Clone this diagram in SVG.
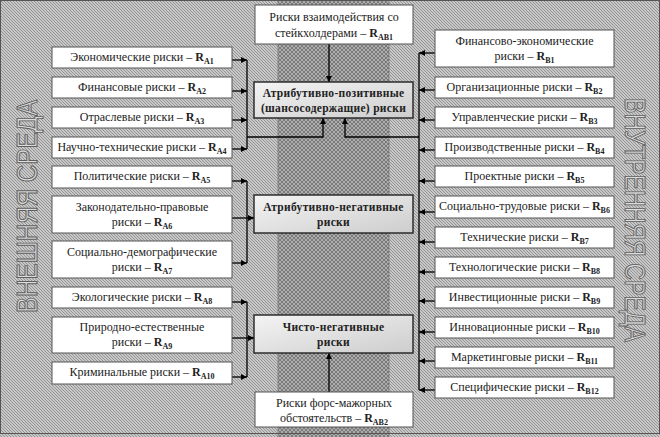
<svg xmlns="http://www.w3.org/2000/svg" width="660" height="437" viewBox="0 0 660 437">
<style>
.box{fill:#fff;stroke:#555;stroke-width:1}
.main{fill:url(#grad);stroke:#222;stroke-width:1.4}
.t{font-family:"Liberation Serif","Times New Roman",serif;font-size:12px;fill:#222;text-anchor:middle}
.tb{font-family:"Liberation Serif","Times New Roman",serif;font-size:11.5px;font-weight:bold;fill:#222;text-anchor:middle;letter-spacing:0.3px}
.b{font-weight:bold}
.s{font-weight:bold;font-size:8px}
.ln{fill:none;stroke:#000;stroke-width:1.3}
.big{font-family:"Liberation Sans",Arial,sans-serif;font-size:30px;fill:#dcdcdc;stroke:#5e5e5e;stroke-width:1}
</style>
<defs>
<pattern id="hatch" width="3" height="3" patternUnits="userSpaceOnUse">
<rect width="3" height="3" fill="#c8c8c8"/>
<path d="M-1,-1 L4,4 M2,-1 L4,1 M-1,2 L1,4" stroke="#8e8e8e" stroke-width="0.9"/>
</pattern>
<pattern id="cross" width="4" height="4" patternUnits="userSpaceOnUse">
<rect width="4" height="4" fill="#adadad"/>
<path d="M0,0 L4,4 M4,0 L0,4" stroke="#747474" stroke-width="0.9"/>
</pattern>
<linearGradient id="grad" x1="0" y1="0" x2="1" y2="1">
<stop offset="0" stop-color="#f4f4f4"/>
<stop offset="1" stop-color="#cdcdcd"/>
</linearGradient>
<marker id="arr" viewBox="0 0 10 10" refX="10" refY="5" markerWidth="7" markerHeight="6" markerUnits="userSpaceOnUse" orient="auto">
<path d="M0,0 L10,5 L0,10z" fill="#000"/>
</marker>
</defs>

<rect x="0" y="0" width="660" height="437" fill="url(#hatch)"/>
<rect x="278" y="0" width="111" height="437" fill="url(#cross)"/>
<line x1="278" y1="0" x2="278" y2="437" stroke="#777" stroke-width="0.8"/>
<line x1="389" y1="0" x2="389" y2="437" stroke="#777" stroke-width="0.8"/>
<rect x="0.5" y="0.5" width="659" height="433" fill="none" stroke="#555" stroke-width="1"/>

<text class="big" transform="translate(37,313) rotate(-90)" textLength="213" lengthAdjust="spacingAndGlyphs">ВНЕШНЯЯ СРЕДА</text>
<text class="big" transform="translate(625,98) rotate(90)" textLength="244" lengthAdjust="spacingAndGlyphs">ВНУТРЕННЯЯ СРЕДА</text>

<g id="connectors">
<path class="ln" d="M232,60 H247" marker-end="url(#arr)"/>
<path class="ln" d="M232,91 H247" marker-end="url(#arr)"/>
<path class="ln" d="M232,120 H247" marker-end="url(#arr)"/>
<path class="ln" d="M232,149 H247" marker-end="url(#arr)"/>
<path class="ln" d="M247,60 V149"/>
<path class="ln" d="M247,137 H323 V118" marker-end="url(#arr)"/>

<path class="ln" d="M232,181 H247" marker-end="url(#arr)"/>
<path class="ln" d="M232,263 H247" marker-end="url(#arr)"/>
<path class="ln" d="M247,181 V263"/>
<path class="ln" d="M232,218 H254" marker-end="url(#arr)"/>

<path class="ln" d="M232,302 H247" marker-end="url(#arr)"/>
<path class="ln" d="M232,377 H247" marker-end="url(#arr)"/>
<path class="ln" d="M247,302 V377"/>
<path class="ln" d="M232,338 H254" marker-end="url(#arr)"/>

<path class="ln" d="M435,53 H419" marker-end="url(#arr)"/>
<path class="ln" d="M435,90 H419" marker-end="url(#arr)"/>
<path class="ln" d="M435,120 H419" marker-end="url(#arr)"/>
<path class="ln" d="M435,150 H419" marker-end="url(#arr)"/>
<path class="ln" d="M435,181 H419" marker-end="url(#arr)"/>
<path class="ln" d="M435,212 H419" marker-end="url(#arr)"/>
<path class="ln" d="M435,242 H419" marker-end="url(#arr)"/>
<path class="ln" d="M435,272 H419" marker-end="url(#arr)"/>
<path class="ln" d="M435,301 H419" marker-end="url(#arr)"/>
<path class="ln" d="M435,332 H419" marker-end="url(#arr)"/>
<path class="ln" d="M435,361 H419" marker-end="url(#arr)"/>
<path class="ln" d="M435,390 H419" marker-end="url(#arr)"/>
<path class="ln" d="M419,53 V390"/>
<path class="ln" d="M419,137 H345 V118" marker-end="url(#arr)"/>

<path class="ln" d="M329,44 V82" marker-end="url(#arr)"/>
<path class="ln" d="M329,392 V353" marker-end="url(#arr)"/>
</g>

<g id="AB1"><rect class="box" x="255" y="5" width="158" height="39"/>
<text class="t" x="334" y="21">Риски взаимодействия со</text>
<text class="t" x="334" y="37">стейкхолдерами – <tspan class="b">R</tspan><tspan class="s" dy="3">AB1</tspan></text></g>

<g id="pos"><rect class="main" x="254" y="82" width="159" height="36"/>
<text class="tb" x="333.5" y="97">Атрибутивно-позитивные</text>
<text class="tb" x="333.5" y="112">(шансосодержащие) риски</text></g>

<g id="neg"><rect class="main" x="254" y="195" width="159" height="38"/>
<text class="tb" x="333.5" y="211">Атрибутивно-негативные</text>
<text class="tb" x="333.5" y="226">риски</text></g>

<g id="pure"><rect class="main" x="254" y="315" width="159" height="38"/>
<text class="tb" x="333.5" y="331">Чисто-негативные</text>
<text class="tb" x="333.5" y="346">риски</text></g>

<g id="AB2"><rect class="box" x="255" y="392" width="158" height="35"/>
<text class="t" x="334" y="407">Риски форс-мажорных</text>
<text class="t" x="334" y="422">обстоятельств – <tspan class="b">R</tspan><tspan class="s" dy="3">AB2</tspan></text></g>

<g id="A1"><rect class="box" x="52" y="47" width="180" height="21"/>
<text class="t" x="142" y="61">Экономические риски – <tspan class="b">R</tspan><tspan class="s" dy="3">A1</tspan></text></g>
<g id="A2"><rect class="box" x="52" y="77" width="180" height="21"/>
<text class="t" x="142" y="91">Финансовые риски – <tspan class="b">R</tspan><tspan class="s" dy="3">A2</tspan></text></g>
<g id="A3"><rect class="box" x="52" y="107" width="180" height="21"/>
<text class="t" x="142" y="121">Отраслевые риски – <tspan class="b">R</tspan><tspan class="s" dy="3">A3</tspan></text></g>
<g id="A4"><rect class="box" x="52" y="137" width="180" height="21"/>
<text class="t" x="142" y="151">Научно-технические риски – <tspan class="b">R</tspan><tspan class="s" dy="3">A4</tspan></text></g>
<g id="A5"><rect class="box" x="52" y="166" width="180" height="22"/>
<text class="t" x="142" y="180">Политические риски – <tspan class="b">R</tspan><tspan class="s" dy="3">A5</tspan></text></g>
<g id="A6"><rect class="box" x="52" y="196" width="180" height="37"/>
<text class="t" x="142" y="211">Законодательно-правовые</text>
<text class="t" x="142" y="226">риски – <tspan class="b">R</tspan><tspan class="s" dy="3">A6</tspan></text></g>
<g id="A7"><rect class="box" x="52" y="241" width="180" height="37"/>
<text class="t" x="142" y="256">Социально-демографические</text>
<text class="t" x="142" y="271">риски – <tspan class="b">R</tspan><tspan class="s" dy="3">A7</tspan></text></g>
<g id="A8"><rect class="box" x="52" y="287" width="180" height="21"/>
<text class="t" x="142" y="301">Экологические риски – <tspan class="b">R</tspan><tspan class="s" dy="3">A8</tspan></text></g>
<g id="A9"><rect class="box" x="52" y="317" width="180" height="36"/>
<text class="t" x="142" y="331">Природно-естественные</text>
<text class="t" x="142" y="346">риски – <tspan class="b">R</tspan><tspan class="s" dy="3">A9</tspan></text></g>
<g id="A10"><rect class="box" x="52" y="362" width="180" height="22"/>
<text class="t" x="142" y="376">Криминальные риски – <tspan class="b">R</tspan><tspan class="s" dy="3">A10</tspan></text></g>

<g id="B1"><rect class="box" x="435" y="30" width="179" height="37"/>
<text class="t" x="524.5" y="45">Финансово-экономические</text>
<text class="t" x="524.5" y="60">риски – <tspan class="b">R</tspan><tspan class="s" dy="3">B1</tspan></text></g>
<g id="B2"><rect class="box" x="435" y="77" width="179" height="21"/>
<text class="t" x="524.5" y="91">Организационные риски – <tspan class="b">R</tspan><tspan class="s" dy="3">B2</tspan></text></g>
<g id="B3"><rect class="box" x="435" y="107" width="179" height="21"/>
<text class="t" x="524.5" y="121">Управленческие риски – <tspan class="b">R</tspan><tspan class="s" dy="3">B3</tspan></text></g>
<g id="B4"><rect class="box" x="435" y="137" width="179" height="21"/>
<text class="t" x="524.5" y="151">Производственные риски – <tspan class="b">R</tspan><tspan class="s" dy="3">B4</tspan></text></g>
<g id="B5"><rect class="box" x="435" y="166" width="179" height="21"/>
<text class="t" x="524.5" y="180">Проектные риски – <tspan class="b">R</tspan><tspan class="s" dy="3">B5</tspan></text></g>
<g id="B6"><rect class="box" x="435" y="196" width="179" height="22"/>
<text class="t" x="524.5" y="210">Социально-трудовые риски – <tspan class="b">R</tspan><tspan class="s" dy="3">B6</tspan></text></g>
<g id="B7"><rect class="box" x="435" y="227" width="179" height="21"/>
<text class="t" x="524.5" y="241">Технические риски – <tspan class="b">R</tspan><tspan class="s" dy="3">B7</tspan></text></g>
<g id="B8"><rect class="box" x="435" y="257" width="179" height="21"/>
<text class="t" x="524.5" y="271">Технологические риски – <tspan class="b">R</tspan><tspan class="s" dy="3">B8</tspan></text></g>
<g id="B9"><rect class="box" x="435" y="287" width="179" height="21"/>
<text class="t" x="524.5" y="301">Инвестиционные риски – <tspan class="b">R</tspan><tspan class="s" dy="3">B9</tspan></text></g>
<g id="B10"><rect class="box" x="435" y="317" width="179" height="21"/>
<text class="t" x="524.5" y="331">Инновационные риски – <tspan class="b">R</tspan><tspan class="s" dy="3">B10</tspan></text></g>
<g id="B11"><rect class="box" x="435" y="347" width="179" height="21"/>
<text class="t" x="524.5" y="361">Маркетинговые риски – <tspan class="b">R</tspan><tspan class="s" dy="3">B11</tspan></text></g>
<g id="B12"><rect class="box" x="435" y="377" width="179" height="21"/>
<text class="t" x="524.5" y="391">Специфические риски – <tspan class="b">R</tspan><tspan class="s" dy="3">B12</tspan></text></g>
</svg>
